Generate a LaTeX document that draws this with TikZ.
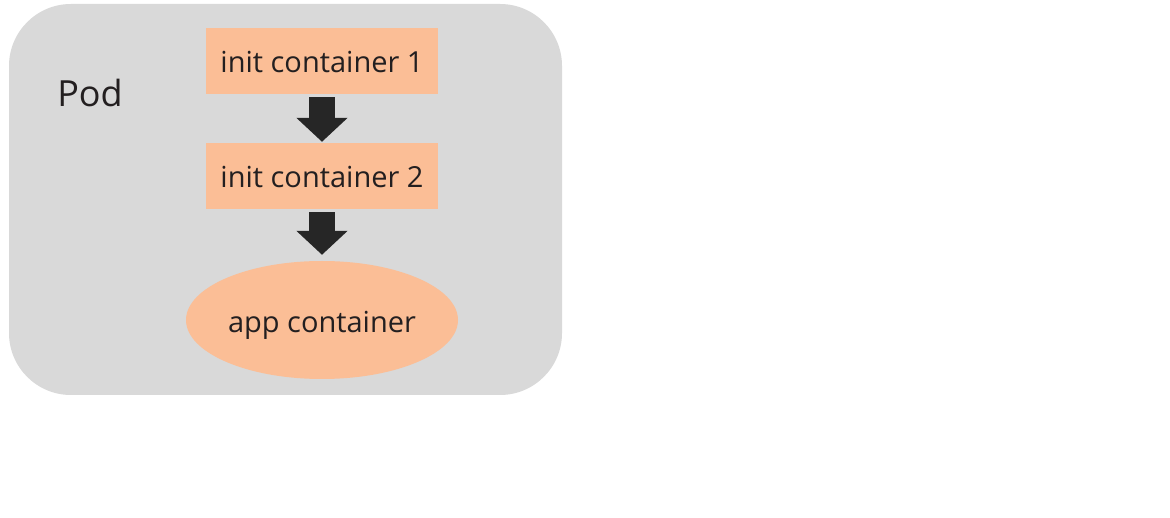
\documentclass[tikz,border=0pt]{standalone}
\usepackage{fontspec}
\setmainfont{Open Sans}
\usetikzlibrary{arrows.meta,shapes.geometric}
\definecolor{podgray}{RGB}{217,217,217}
\definecolor{salmon}{RGB}{251,190,150}
\definecolor{txt}{RGB}{35,31,32}
\definecolor{arr}{RGB}{38,38,38}
\tikzset{
  lbl/.style={text=txt, font=\fontsize{29}{34}\selectfont, text height=24pt, text depth=0pt},
  box/.style={lbl, fill=salmon, minimum width=232pt, minimum height=66pt, inner sep=0pt},
  flow/.style={draw=arr, line width=26pt, -{Triangle[width=50pt,length=24pt]}, shorten <=3pt, shorten >=1pt}
}
\begin{document}
\begin{tikzpicture}[x=1pt,y=-1pt]
\useasboundingbox (0,0) rectangle (1170,518);
\fill[white] (0,0) rectangle (1170,518);
\node[fill=podgray, rounded corners=62pt, minimum width=553pt, minimum height=391pt, inner sep=0pt] (pod) at (285.5,199.5) {};
\node[text=txt, font=\fontsize{36}{40}\selectfont, anchor=center] (podlabel) at (90,93) {Pod};
\node[box] (ic1) at (322,61) {init container 1};
\node[box] (ic2) at (322,176) {init container 2};
\node[lbl, text height=26pt, ellipse, fill=salmon, minimum width=272pt, minimum height=118pt, inner sep=0pt] (app) at (322,320) {app container};
\draw[flow] (ic1.south) -- (ic2.north);
\draw[flow] (ic2.south) -- ([yshift=5pt]app.north);
\end{tikzpicture}
\end{document}
